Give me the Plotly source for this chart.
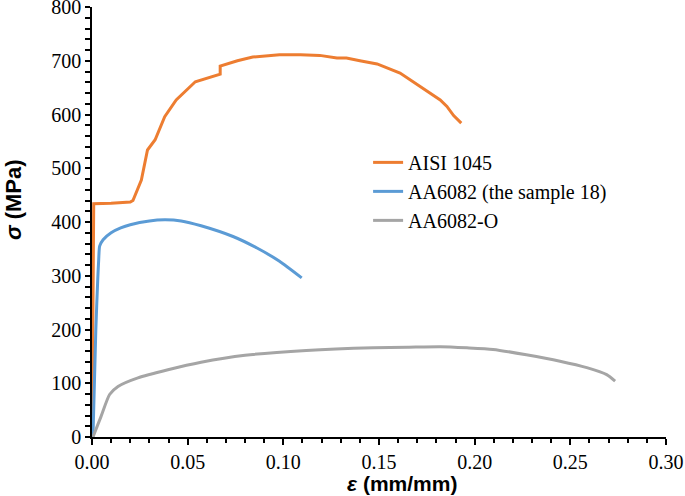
import plotly.graph_objects as go

# AISI 1045
steel_x = [0, 0.0008, 0.0009, 0.010, 0.020, 0.0214, 0.0235, 0.0258, 0.029, 0.033, 0.038, 0.044,
           0.054, 0.067, 0.067, 0.076, 0.084, 0.098, 0.109, 0.119, 0.128, 0.133, 0.140,
           0.149, 0.161, 0.170, 0.182, 0.1855, 0.189, 0.193]
steel_y = [0, 300, 434, 435, 437, 440, 460, 478, 534, 553, 596, 627,
           661, 675, 690, 700, 707, 711, 711, 710, 705, 705, 700,
           694, 677, 655, 627, 615, 598, 584]

# AA6082 (the sample 18)
al_x = [0.0005, 0.002, 0.003, 0.0035, 0.004, 0.0058, 0.010, 0.015, 0.020, 0.030, 0.038,
        0.0466, 0.057, 0.0737, 0.086, 0.098, 0.1096]
al_y = [0, 200, 293, 330, 355, 367, 380, 389, 395, 402, 404,
        402, 393, 373, 352, 327, 296]

# AA6082-O
alo_x = [0.0005, 0.0047, 0.0092, 0.0136, 0.024, 0.0397, 0.057, 0.080, 0.112, 0.147,
         0.165, 0.182, 0.196, 0.2096, 0.227, 0.2446, 0.2586, 0.269, 0.2734]
alo_y = [0, 38, 79, 94, 110, 125, 139, 152, 161, 166,
         167, 168, 166, 163, 153, 141, 129, 116, 104]

series_names = ["AISI 1045", "AA6082 (the sample 18)", "AA6082-O"]
colors = ["#ED7D31", "#5B9BD5", "#A5A5A5"]

fig = go.Figure()
fig.add_trace(go.Scatter(x=steel_x, y=steel_y, mode="lines", name=series_names[0],
                         line=dict(color=colors[0], width=3)))
fig.add_trace(go.Scatter(x=al_x, y=al_y, mode="lines", name=series_names[1],
                         line=dict(color=colors[1], width=3, shape="spline", smoothing=0.6)))
fig.add_trace(go.Scatter(x=alo_x, y=alo_y, mode="lines", name=series_names[2],
                         line=dict(color=colors[2], width=3, shape="spline", smoothing=0.6)))

serif = "Liberation Serif"
tick_font = dict(family=serif, size=20, color="black")

fig.update_layout(
    width=685, height=496,
    margin=dict(l=92, r=19, t=7, b=58.5, autoexpand=False),
    paper_bgcolor="white", plot_bgcolor="white",
    font=dict(family=serif, size=20, color="black"),
    showlegend=True,
    legend=dict(x=0.481, y=0.684, xanchor="left", yanchor="top",
                font=dict(family=serif, size=20, color="black"),
                bgcolor="rgba(0,0,0,0)", borderwidth=0, tracegroupgap=0),
    xaxis=dict(range=[0, 0.3], tick0=0, dtick=0.05, tickformat=".2f", automargin=False,
               ticklabeloverflow="allow",
               showgrid=False, zeroline=False, showline=True, linecolor="black", linewidth=1.5,
               ticks="outside", ticklen=6, tickwidth=1.5, tickcolor="black",
               minor=dict(dtick=0.01, ticks="outside", ticklen=4, tickwidth=1.5, tickcolor="black", showgrid=False),
               tickfont=tick_font),
    yaxis=dict(range=[0, 800], tick0=0, dtick=100, automargin=False,
               ticklabeloverflow="allow",
               showgrid=False, zeroline=False, showline=True, linecolor="black", linewidth=1.5,
               ticks="outside", ticklen=5, tickwidth=1.5, tickcolor="black",
               minor=dict(dtick=20, ticks="outside", ticklen=5, tickwidth=1.5, tickcolor="black", showgrid=False),
               tickfont=tick_font),
    annotations=[
        dict(text="<i>ε</i> (mm/mm)", xref="paper", yref="paper", x=0.54, y=-0.107,
             xanchor="center", yanchor="middle", showarrow=False,
             font=dict(family="Liberation Sans", size=21, color="black", weight="bold")),
        dict(text="<i>σ</i> (MPa)", xref="paper", yref="paper", x=-0.137, y=0.552,
             xanchor="center", yanchor="middle", showarrow=False, textangle=-90,
             font=dict(family="Liberation Sans", size=22, color="black", weight="bold")),
    ],
)

fig.write_html("out.html", config={"displayModeBar": False},
               post_script="document.body.style.margin='0';")
